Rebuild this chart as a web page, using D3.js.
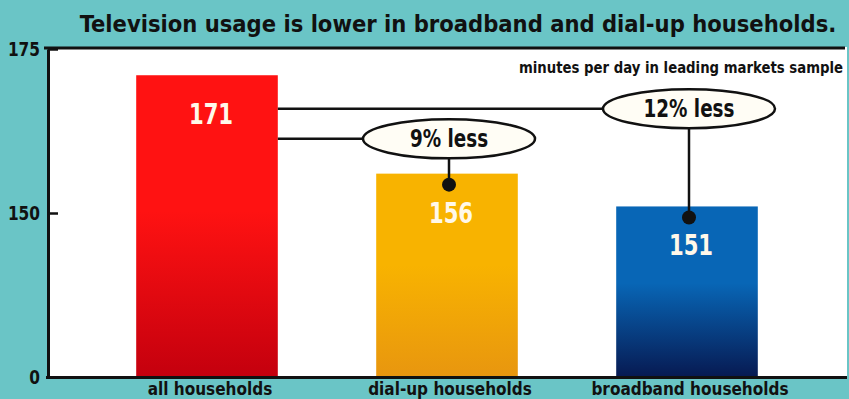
<!DOCTYPE html>
<html>
<head>
<meta charset="utf-8">
<script src="https://cdn.jsdelivr.net/npm/d3@7"></script>
<style>
  html, body { margin: 0; padding: 0; background: #6ac5c6; }
  svg { display: block; }
  text { font-family: "DejaVu Sans Condensed", "Liberation Sans", sans-serif; font-weight: bold; }
</style>
</head>
<body>
<svg id="chart" width="849" height="399"></svg>
<script>
// Minutes of television per day, by household type
const categories = ["all households", "dial-up households", "broadband households"];
const minutes = [171, 156, 151];
const tickValues = [0, 150, 175];
const barColors = [["#ff1212", "#c4000e"], ["#f8b300", "#e8960f"], ["#0866b6", "#071a52"]];

// Callouts comparing each group with all households
const calloutLabels = ["9% less", "12% less"];
const calloutTargets = [1, 2];

const title = "Television usage is lower in broadband and dial-up households.";
const subtitle = "minutes per day in leading markets sample";

const W = 849, H = 399;
const left = 48, right = 847, bottom = 377;

const svg = d3.select("#chart");

// Squeeze a text horizontally to give a narrow, poster-style face
function condense(sel, factor) {
  sel.each(function () {
    const len = this.getComputedTextLength();
    d3.select(this).attr("textLength", len * factor).attr("lengthAdjust", "spacingAndGlyphs");
  });
}

// Broken value axis: 0–150 compressed, 150–175 expanded
const y = d3.scaleLinear().domain([0, 150, 175]).range([bottom, 213, 49]);
const x = d3.scaleBand().domain(categories).range([87, 807]).paddingInner(0.41).paddingOuter(0.205);

// Plot background
svg.append("rect")
  .attr("x", left).attr("y", y(175) - 2)
  .attr("width", right - left).attr("height", bottom - y(175) + 2)
  .attr("fill", "#ffffff");

// Gradients
const defs = svg.append("defs");
barColors.forEach((c, i) => {
  const g = defs.append("linearGradient").attr("id", "grad" + i)
    .attr("x1", 0).attr("y1", 0).attr("x2", 0).attr("y2", 1);
  g.append("stop").attr("offset", "0%").attr("stop-color", c[0]);
  g.append("stop").attr("offset", "45%").attr("stop-color", c[0]);
  g.append("stop").attr("offset", "100%").attr("stop-color", c[1]);
});

// Bars
svg.selectAll("rect.bar").data(minutes).join("rect")
  .attr("class", "bar")
  .attr("x", (d, i) => x(categories[i]))
  .attr("y", d => y(d))
  .attr("width", x.bandwidth())
  .attr("height", d => bottom - y(d))
  .attr("fill", (d, i) => `url(#grad${i})`);

// Value labels inside bars
svg.selectAll("text.val").data(minutes).join("text")
  .attr("class", "val")
  .attr("x", (d, i) => x(categories[i]) + x.bandwidth() / 2 + 4)
  .attr("y", d => y(d) + 49)
  .attr("text-anchor", "middle")
  .attr("font-size", 28)
  .attr("fill", "#fff8ea")
  .text(d => d)
  .call(condense, 0.84);

// Axes frame
svg.append("line").attr("x1", left - 4).attr("x2", right - 2)
  .attr("y1", y(175) - 1).attr("y2", y(175) - 1)
  .attr("stroke", "#111").attr("stroke-width", 3);
svg.append("line").attr("x1", left - 2).attr("x2", right)
  .attr("y1", bottom + 0.5).attr("y2", bottom + 0.5)
  .attr("stroke", "#111").attr("stroke-width", 3);

const axis = d3.axisLeft(y).tickValues(tickValues).tickSizeInner(-10).tickSizeOuter(0).tickPadding(8);
const ag = svg.append("g").attr("transform", `translate(${left},0)`).call(axis);
ag.select(".domain").attr("stroke", "#111").attr("stroke-width", 3);
ag.selectAll(".tick line").attr("stroke", "#111").attr("stroke-width", 2.5);
ag.selectAll(".tick text").attr("font-size", 19).attr("fill", "#111")
  .attr("font-family", "'DejaVu Sans Condensed', sans-serif")
  .attr("font-weight", "bold")
  .call(condense, 0.9);

// Category labels
svg.selectAll("text.cat").data(categories).join("text")
  .attr("class", "cat")
  .attr("x", d => x(d) + x.bandwidth() / 2 + 3)
  .attr("y", 395)
  .attr("text-anchor", "middle")
  .attr("font-size", 17)
  .attr("fill", "#111")
  .text(d => d);

// Title and unit note
svg.append("text").attr("x", 458).attr("y", 32).attr("text-anchor", "middle")
  .attr("font-size", 23.5).attr("fill", "#111").text(title);
svg.append("text").attr("x", 843).attr("y", 73).attr("text-anchor", "end")
  .attr("font-size", 15).attr("fill", "#111").text(subtitle)
  .attr("textLength", 324).attr("lengthAdjust", "spacingAndGlyphs");

// Callouts: line from the reference bar to an oval, then down to the target bar
const refRight = x(categories[0]) + x.bandwidth();
const calloutRows = [y(161.3), y(165.9)];
calloutTargets.forEach((t, k) => {
  const cx = x(categories[t]) + x.bandwidth() / 2 + 2;
  const cy = calloutRows[k];
  const rx = 86, ry = 19.5;
  const g = svg.append("g");
  g.append("line").attr("x1", refRight).attr("x2", cx - rx)
    .attr("y1", cy).attr("y2", cy).attr("stroke", "#111").attr("stroke-width", 2.5);
  const dotY = y(minutes[t]) + 11;
  g.append("line").attr("x1", cx).attr("x2", cx)
    .attr("y1", cy + ry).attr("y2", dotY).attr("stroke", "#111").attr("stroke-width", 2.5);
  g.append("circle").attr("cx", cx).attr("cy", dotY).attr("r", 7).attr("fill", "#111");
  g.append("ellipse").attr("cx", cx).attr("cy", cy).attr("rx", rx).attr("ry", ry)
    .attr("fill", "#fffdf5").attr("stroke", "#111").attr("stroke-width", 2.5);
  g.append("text").attr("x", cx).attr("y", cy + 8).attr("text-anchor", "middle")
    .attr("font-size", 24).attr("fill", "#111").text(calloutLabels[k])
    .call(condense, 0.85);
});
</script>
</body>
</html>
